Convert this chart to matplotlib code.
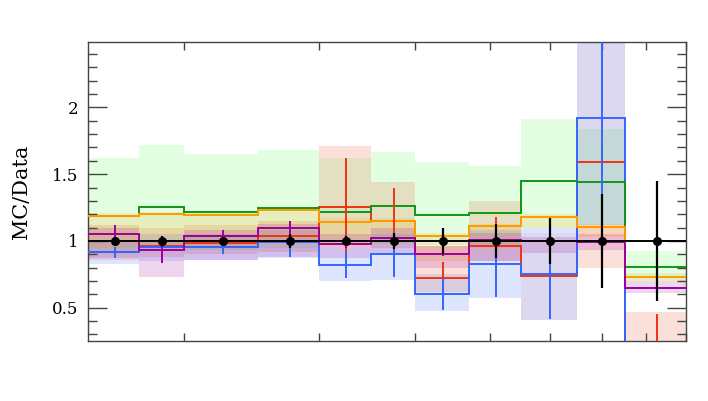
import numpy as np
import matplotlib
matplotlib.use("Agg")
import matplotlib.pyplot as plt
from matplotlib.ticker import LogLocator, NullFormatter, MultipleLocator

# bin edges (log x axis, no labels shown on this ratio panel)
edges = [1.5, 1.75, 2.0, 2.5, 3.0, 3.5, 4.0, 4.7, 5.5, 6.5, 7.5, 9.0]

data_ratio = [1.0, 1.0, 1.0, 1.0, 1.0, 1.0, 1.0, 1.0, 1.0, 1.0, 1.0]
data_err = [0.03, 0.04, 0.03, 0.05, 0.04, 0.06, 0.10, 0.13, 0.17, 0.355, 0.45]

# MC / data ratios
red = [0.915, 0.965, 0.983, 1.037, 1.252, 1.15, 0.72, 0.963, 0.74, 1.59, 0.10]
blue = [0.915, 0.953, 0.953, 0.99, 0.82, 0.90, 0.60, 0.83, 0.755, 1.918, 0.05]
green = [1.185, 1.257, 1.215, 1.245, 1.22, 1.262, 1.195, 1.207, 1.451, 1.44, 0.805]
orange = [1.185, 1.20, 1.192, 1.23, 1.145, 1.15, 1.04, 1.112, 1.182, 1.107, 0.733]
purple = [1.05, 0.933, 1.035, 1.10, 0.975, 1.025, 0.905, 1.005, 1.0, 0.995, 0.648]

# stat errors drawn at bin centres
red_err = [0.03, 0.03, 0.03, 0.03, 0.37, 0.25, 0.12, 0.22, 0.05, 0.10, 0.35]
blue_err = [0.04, 0.04, 0.05, 0.11, 0.10, 0.17, 0.12, 0.25, 0.34, 0.60, 0.10]
purple_err = [0.07, 0.095, 0.05, 0.05, 0.03, 0.03, 0.02, 0.03, 0.03, 0.03, 0.03]

# uncertainty bands (lower, upper)
green_lo = [0.90, 0.95, 0.93, 0.95, 0.97, 0.98, 0.97, 0.98, 1.10, 1.12, 0.70]
green_hi = [1.62, 1.716, 1.65, 1.68, 1.62, 1.666, 1.59, 1.56, 1.913, 1.84, 0.927]
red_lo = [0.86, 0.88, 0.90, 0.92, 0.95, 0.95, 0.62, 0.85, 0.41, 0.795, 0.0]
red_hi = [1.12, 1.10, 1.12, 1.15, 1.71, 1.444, 0.96, 1.30, 1.06, 2.60, 0.47]
red_in_lo = [0.86, 0.88, 0.90, 0.92, 0.95, 0.95, 0.62, 0.85, 0.74, 0.795, 0.0]
red_in_hi = [1.12, 1.10, 1.12, 1.15, 1.71, 1.444, 0.96, 1.30, 0.74, 1.12, 0.47]
blue_lo = [0.83, 0.85, 0.858, 0.875, 0.703, 0.71, 0.478, 0.57, 0.41, 1.12, 0.0]
blue_hi = [1.00, 1.05, 1.05, 1.08, 0.95, 1.05, 0.75, 1.08, 1.10, 2.60, 0.20]
purple_lo = [0.87, 0.733, 0.86, 0.88, 0.87, 0.90, 0.80, 0.85, 0.91, 0.93, 0.61]
purple_hi = [1.10, 1.00, 1.08, 1.13, 1.05, 1.10, 0.96, 1.06, 1.03, 1.05, 0.70]
orange_lo = [0.95, 0.95, 0.95, 1.00, 1.00, 1.00, 0.85, 0.95, 1.10, 1.03, 0.70]
orange_hi = [1.21, 1.22, 1.21, 1.25, 1.17, 1.17, 1.06, 1.13, 1.20, 1.13, 0.76]

c_red, c_blue, c_green, c_orange, c_purple = "#EE3311", "#3366FF", "#109618", "#FF9900", "#990099"

edges = np.array(edges)
centres = 0.5 * (edges[:-1] + edges[1:])

fig = plt.figure(figsize=(7.08, 4.01), dpi=100)
ax = fig.add_axes([0.1243, 0.1496, 0.8442, 0.7449])

# bands
ax.stairs(green_hi, edges, baseline=green_lo, fill=True, color="#7fff7f", alpha=0.22, lw=0, zorder=1)
ax.stairs(red_hi, edges, baseline=red_lo, fill=True, color=c_red, alpha=0.08, lw=0, zorder=1)
ax.stairs(red_in_hi, edges, baseline=red_in_lo, fill=True, color=c_red, alpha=0.08, lw=0, zorder=1)
ax.stairs(blue_hi, edges, baseline=blue_lo, fill=True, color=c_blue, alpha=0.16, lw=0, zorder=1)
ax.stairs(orange_hi, edges, baseline=orange_lo, fill=True, color=c_orange, alpha=0.16, lw=0, zorder=1)
ax.stairs(purple_hi, edges, baseline=purple_lo, fill=True, color=c_purple, alpha=0.16, lw=0, zorder=1)

# step lines
for vals, col in [(red, c_red), (blue, c_blue), (green, c_green), (orange, c_orange), (purple, c_purple)]:
    ax.stairs(vals, edges, baseline=None, color=col, lw=1.4, zorder=3)

# MC error bars
for vals, err, col in [(red, red_err, c_red), (blue, blue_err, c_blue), (purple, purple_err, c_purple)]:
    ax.errorbar(centres, vals, yerr=err, fmt="none", ecolor=col, elinewidth=1.4, capsize=0, zorder=4)

# data
ax.stairs(data_ratio, edges, baseline=None, color="black", lw=1.4, zorder=5)
ax.errorbar(centres, data_ratio, yerr=data_err, fmt="o", color="black", ms=5.5,
            elinewidth=1.6, capsize=0, zorder=6)

ax.set_xscale("log")
ax.set_xlim(1.5, 9.0)
ax.set_ylim(0.251, 2.487)

ax.xaxis.set_major_locator(LogLocator(base=10, subs=(1.0,)))
ax.xaxis.set_minor_locator(LogLocator(base=10, subs=np.arange(2, 10)))
ax.xaxis.set_minor_formatter(NullFormatter())
ax.xaxis.set_major_formatter(NullFormatter())
ax.yaxis.set_minor_locator(MultipleLocator(0.1))
ax.set_yticks([0.5, 1.0, 1.5, 2.0])
ax.set_yticklabels(["0.5", "1", "1.5", "2"], family="DejaVu Serif", fontsize=12)

ax.tick_params(axis="y", which="major", direction="in", length=13.5, width=1, color="#444444",
               right=True, pad=7)
ax.tick_params(axis="y", which="minor", direction="in", length=6.3, width=1, color="#444444", right=True)
ax.tick_params(axis="x", which="both", direction="in", length=5.8, width=1, color="#444444", top=True)

for s in ax.spines.values():
    s.set_color("#444444")
    s.set_linewidth(1)

ax.set_ylabel("MC/Data", family="DejaVu Serif", fontsize=15)
ax.yaxis.set_label_coords(-0.095, 0.5)

fig.savefig("out.png", dpi=100)
